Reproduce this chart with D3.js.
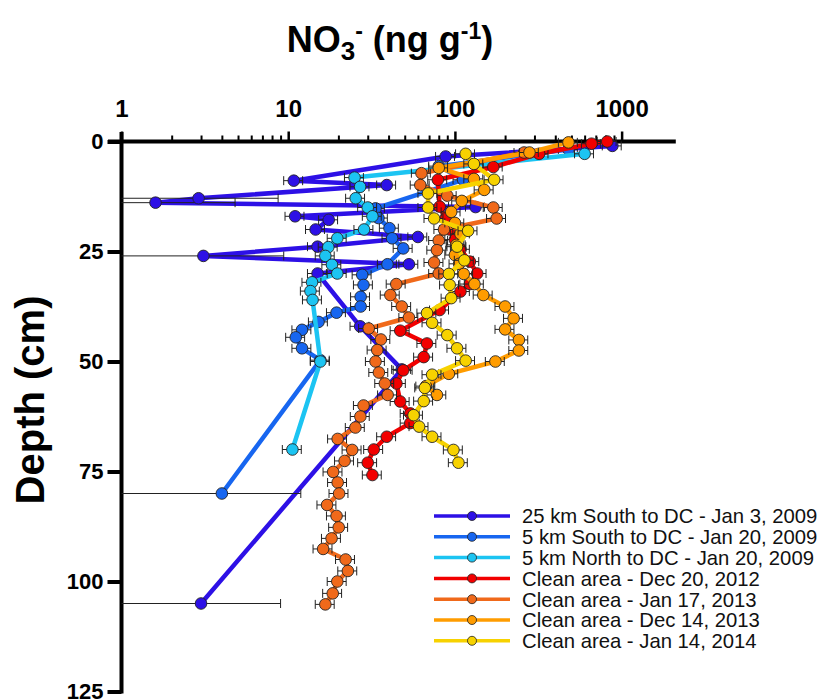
<!DOCTYPE html>
<html>
<head>
<meta charset="utf-8">
<script src="https://cdn.jsdelivr.net/npm/d3@7"></script>
<style>
  body { margin: 0; background: #fff; }
  svg { display: block; font-family: 'Liberation Sans', Arial, Helvetica, sans-serif; }
</style>
</head>
<body>
<div id="chart"></div>
<script>
// series labels + colours (legend order)
const seriesLabels = [
  '25 km South to DC - Jan 3, 2009',
  '5 km South to DC - Jan 20, 2009',
  '5 km North to DC - Jan 20, 2009',
  'Clean area - Dec 20, 2012',
  'Clean area - Jan 17, 2013',
  'Clean area - Dec 14, 2013',
  'Clean area - Jan 14, 2014',
];
const seriesColors = ['#2d10e6', '#1766f0', '#1cc4f2', '#f20000', '#f0691a', '#ff9c00', '#f7d200'];

// depth (cm) and NO3- (ng/g)
const depth25kmSouth = [1, 3.4, 8.9, 9.9, 12.9, 13.9, 14.9, 17, 17.8, 20, 21.7, 23.9, 26, 27.9, 30, 42, 51.8, 105];
const no3_25kmSouth = [880, 88, 10.8, 39, 2.9, 1.6, 133, 11, 17.5, 14.6, 60, 15, 3.1, 53, 15, 27, 48, 3.0];

const depth5kmSouth = [1.8, 5.6, 8.7, 15.2, 17.4, 19.7, 22, 24.3, 27.9, 30.3, 32.6, 35.3, 37.5, 38.9, 41, 42.8, 44.5, 47, 49.7, 80];
const no3_5kmSouth = [480, 80, 112, 33.4, 34.8, 40.5, 42, 49, 39.4, 27.8, 28.3, 27.2, 27.2, 19.5, 15.2, 12.1, 11.1, 12.1, 15.6, 4.0];

const depth5kmNorth = [2.8, 8.2, 10.3, 12.9, 15, 17, 20, 22, 24, 26, 28, 30, 32, 34, 36, 50, 70];
const no3_5kmNorth = [600, 25, 27, 25.4, 30, 32, 28.5, 19.7, 17.4, 16.7, 18.3, 19.7, 13.9, 13.6, 14, 15.6, 10.6];

const depthDec2012 = [0, 0.5, 2.8, 5.8, 8.7, 14.8, 17.5, 20, 22.3, 24.5, 27.3, 30, 32.4, 34.1, 38.3, 43, 45.9, 49, 52, 55, 59.1, 61.8, 64, 67.1, 70, 73, 75.8];
const no3Dec2012 = [820, 660, 320, 170, 79, 81, 88, 93, 100, 108, 123, 136, 123, 108, 81, 47, 68, 65, 49, 44.6, 47, 54, 54, 39, 32.6, 30, 32];

const depthJan2013 = [2.5, 7.2, 9.9, 12.3, 15, 17.5, 20, 22.5, 24.7, 27.5, 30, 32.4, 34.9, 37.5, 40, 42.5, 45, 47.4, 50, 52.5, 55, 57.6, 60, 62.5, 65, 67.6, 70.1, 72.6, 75.1, 77.5, 80, 82.6, 85.1, 87.7, 90.2, 92.6, 95, 97.6, 100, 102.7, 105.2];
const no3Jan2013 = [260, 63, 62, 90, 170, 178, 86, 80, 78, 75, 80, 44.5, 41, 48, 53, 30.4, 36, 34.2, 33.4, 35, 38, 39.5, 28.3, 27.1, 25.3, 19.8, 24.2, 21.8, 18.6, 19.8, 20.2, 17.1, 19.5, 20.1, 18.2, 16.2, 22.1, 22.8, 19.7, 18.5, 16.7];

const depthDec2013 = [0.2, 2.5, 6, 8.5, 11, 13.5, 16, 18.5, 21, 23.5, 25.8, 27.8, 30.1, 32.4, 34.9, 37.5, 40.2, 42.7, 45.1, 47.5, 50, 52.8, 55.6, 57.6];
const no3Dec2013 = [480, 280, 80, 130, 150, 110, 95, 100, 108, 102, 100, 106, 113, 131, 148, 200, 225, 200, 242, 242, 175, 92, 67, 78];

const depthJan2014 = [2.8, 5.1, 8.7, 11.8, 15, 17.5, 20.3, 23.9, 27, 30.1, 32.6, 35.6, 39, 41.2, 44, 47, 49.8, 53, 56, 59, 62.2, 64.8, 67.1, 70.1, 73];
const no3Jan2014 = [116, 130, 172, 69, 69, 75, 120, 103, 114, 92, 93, 95, 68, 73, 90, 103, 116, 73, 66, 65, 56.5, 61, 73, 98, 105];

// most bars are about +/-13%, a few are much wider
const defaultRelErr = 0.13;
const largeErrors = [
  { series: 0, depth: 12.9, err: 5.8 },
  { series: 0, depth: 13.9, err: 3.2 },
  { series: 0, depth: 26, err: 6.3 },
  { series: 0, depth: 105, err: 6.0 },
  { series: 1, depth: 80, err: 7.9 },
];

const xMajorTicks = [1, 10, 100, 1000];
const yTicks = [0, 25, 50, 75, 100, 125];

const allDepths = [depth25kmSouth, depth5kmSouth, depth5kmNorth, depthDec2012, depthJan2013, depthDec2013, depthJan2014];
const allValues = [no3_25kmSouth, no3_5kmSouth, no3_5kmNorth, no3Dec2012, no3Jan2013, no3Dec2013, no3Jan2014];

const series = seriesLabels.map((label, i) => ({
  label,
  color: seriesColors[i],
  points: allDepths[i].map((d, j) => {
    const big = largeErrors.find((e) => e.series === i && e.depth === d);
    const v = allValues[i][j];
    return { depth: d, value: v, err: big ? big.err : v * defaultRelErr };
  }),
}));

const margin = { top: 141.5, left: 121.5 };
const plotW = 550.3;
const plotH = 550;

const svg = d3.select('#chart').append('svg').attr('width', 821).attr('height', 700);

const x = d3.scaleLog().domain([1, 2000]).range([0, plotW]);
const y = d3.scaleLinear().domain([0, 125]).range([0, plotH]);

// title
const title = svg
  .append('text')
  .attr('x', 390)
  .attr('y', 52)
  .attr('text-anchor', 'middle')
  .style('font-size', '36px')
  .style('font-weight', 'bold');
title.append('tspan').text('NO');
title.append('tspan').attr('dy', 8).style('font-size', '26px').text('3');
title.append('tspan').attr('dy', -21).style('font-size', '23px').text('-');
title.append('tspan').attr('dy', 13).text(' (ng g');
title.append('tspan').attr('dy', -13).style('font-size', '23px').text('-1');
title.append('tspan').attr('dy', 13).text(')');

// y label
svg
  .append('text')
  .attr('transform', 'translate(44,400) rotate(-90)')
  .attr('text-anchor', 'middle')
  .style('font-size', '40px')
  .style('font-weight', 'bold')
  .text('Depth (cm)');

const g = svg.append('g').attr('transform', `translate(${margin.left},${margin.top})`);

// top x axis: minor and major ticks
const minorTicks = x.ticks().filter((t) => !xMajorTicks.includes(t) && t <= 1000);
const xMinor = g.append('g').call(d3.axisTop(x).tickValues(minorTicks).tickSize(6).tickFormat(''));
xMinor.select('.domain').remove();
xMinor.selectAll('line').attr('stroke', '#000').attr('stroke-width', 2);

const xMajor = g
  .append('g')
  .call(d3.axisTop(x).tickValues(xMajorTicks).tickSize(10).tickPadding(15).tickFormat(d3.format('d')));
xMajor.select('.domain').remove();
xMajor.selectAll('line').attr('stroke', '#000').attr('stroke-width', 2.5);
xMajor.selectAll('text').attr('fill', '#000').style('font-size', '24px').style('font-weight', 'bold').style('font-family', 'inherit');

// left y axis
const yAxis = g.append('g').call(d3.axisLeft(y).tickValues(yTicks).tickSize(14).tickPadding(4));
yAxis.select('.domain').remove();
yAxis.selectAll('line').attr('stroke', '#000').attr('stroke-width', 4);
yAxis.selectAll('text').attr('fill', '#000').style('font-size', '22px').style('font-weight', 'bold').style('font-family', 'inherit');

// axis lines (cross style)
g.append('line')
  .attr('x1', -13.5)
  .attr('x2', x(2000) + 4)
  .attr('y1', 0)
  .attr('y2', 0)
  .attr('stroke', '#000')
  .attr('stroke-width', 4);
g.append('line')
  .attr('x1', 0)
  .attr('x2', 0)
  .attr('y1', -9.5)
  .attr('y2', y(125) + 2)
  .attr('stroke', '#000')
  .attr('stroke-width', 4);

const line = d3
  .line()
  .x((d) => x(d.value))
  .y((d) => y(d.depth));

series.forEach((s) => {
  const sg = g.append('g');

  sg.append('path')
    .datum(s.points)
    .attr('fill', 'none')
    .attr('stroke', s.color)
    .attr('stroke-width', 4.5)
    .attr('stroke-linejoin', 'round')
    .attr('d', line);

  // error bars
  const eb = sg.append('g').selectAll('g').data(s.points).enter().append('g');
  eb.append('line')
    .attr('x1', (d) => x(Math.max(1, d.value - d.err)))
    .attr('x2', (d) => x(d.value + d.err))
    .attr('y1', (d) => y(d.depth))
    .attr('y2', (d) => y(d.depth))
    .attr('stroke', '#222')
    .attr('stroke-width', 1);
  eb.append('line')
    .attr('x1', (d) => x(d.value + d.err))
    .attr('x2', (d) => x(d.value + d.err))
    .attr('y1', (d) => y(d.depth) - 4.5)
    .attr('y2', (d) => y(d.depth) + 4.5)
    .attr('stroke', '#222')
    .attr('stroke-width', 1);
  eb.filter((d) => d.value - d.err > 1)
    .append('line')
    .attr('x1', (d) => x(d.value - d.err))
    .attr('x2', (d) => x(d.value - d.err))
    .attr('y1', (d) => y(d.depth) - 4.5)
    .attr('y2', (d) => y(d.depth) + 4.5)
    .attr('stroke', '#222')
    .attr('stroke-width', 1);

  sg.append('g')
    .selectAll('circle')
    .data(s.points)
    .enter()
    .append('circle')
    .attr('cx', (d) => x(d.value))
    .attr('cy', (d) => y(d.depth))
    .attr('r', 5.8)
    .attr('fill', s.color)
    .attr('stroke', '#222')
    .attr('stroke-width', 0.9);
});

// legend
const legend = svg.append('g').attr('transform', 'translate(434,516)');
const items = legend
  .selectAll('g')
  .data(series)
  .enter()
  .append('g')
  .attr('transform', (d, i) => `translate(0,${i * 20.8})`);
items.append('line').attr('x1', 0).attr('x2', 76).attr('stroke', (d) => d.color).attr('stroke-width', 3.5);
items
  .append('circle')
  .attr('cx', 38)
  .attr('r', 4.5)
  .attr('fill', (d) => d.color)
  .attr('stroke', '#222')
  .attr('stroke-width', 0.8);
items
  .append('text')
  .attr('x', 88)
  .attr('dy', '0.36em')
  .style('font-size', '20.3px')
  .attr('fill', '#111')
  .text((d) => d.label);
</script>
</body>
</html>
